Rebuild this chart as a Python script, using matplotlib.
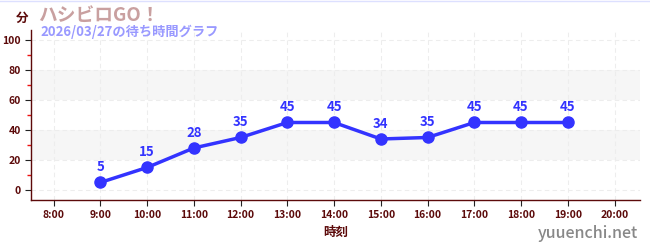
import matplotlib.pyplot as plt
from matplotlib.ticker import MultipleLocator

plt.rcParams['font.family'] = ['Noto Sans CJK JP', 'DejaVu Sans']

hours = [9, 10, 11, 12, 13, 14, 15, 16, 17, 18, 19]
wait = [5, 15, 28, 35, 45, 45, 34, 35, 45, 45, 45]
tick_hours = list(range(8, 21))
tick_labels = [f'{h}:00' for h in tick_hours]

dark = '#5c0a0a'
blue = '#3333ff'

fig = plt.figure(figsize=(6.5, 2.5), dpi=100, facecolor='white')
ax = fig.add_axes([0.048, 0.2, 0.937, 0.68])

ax.set_xlim(7.52, 20.55)
ax.set_ylim(-6.7, 106.7)

for lo, hi in [(20, 40), (60, 80)]:
    ax.axhspan(lo, hi, color='#f6f6f6', zorder=0, lw=0)

ax.set_xticks(tick_hours)
ax.set_xticklabels(tick_labels)
ax.yaxis.set_major_locator(MultipleLocator(20))
ax.yaxis.set_minor_locator(MultipleLocator(10))
ax.grid(True, which='major', color='#ededed', linestyle=(0, (4, 3)), lw=0.8, zorder=0)

for s in ['top', 'right']:
    ax.spines[s].set_visible(False)
for s in ['left', 'bottom']:
    ax.spines[s].set_color(dark)
    ax.spines[s].set_linewidth(1)

ax.tick_params(axis='both', which='major', colors='#222222', labelcolor=dark,
               labelsize=7.5, length=4, width=0.8)
ax.tick_params(axis='y', which='minor', colors='#ee1111', length=3, width=1)
for lab in ax.get_xticklabels() + ax.get_yticklabels():
    lab.set_fontweight('bold')

ax.plot(hours, wait, color=blue, lw=2.5, marker='o', ms=8, zorder=3)
for h, v in zip(hours, wait):
    ax.annotate(str(v), (h, v), xytext=(0, 6), textcoords='offset points',
                ha='center', va='bottom', color=blue, fontsize=9.5, fontweight='bold')

ax.set_xlabel('時刻', color=dark, fontsize=9, fontweight='bold', labelpad=4)

fig.text(0.024, 0.928, '分', color=dark, fontsize=9, fontweight='bold', ha='left', va='center')
fig.text(0.058, 0.94, 'ハシビロGO！', color='#c9a0a0', fontsize=13.5, fontweight='bold',
         ha='left', va='center')
fig.text(0.062, 0.872, '2026/03/27の待ち時間グラフ', color='#9999ff', fontsize=9.5,
         fontweight='bold', ha='left', va='center')
fig.text(0.982, 0.068, 'yuuenchi.net', color='#888888', fontsize=11.5, fontweight='medium',
         ha='right', va='center')
fig.add_artist(plt.Line2D([0, 1], [0.998, 0.998], transform=fig.transFigure,
                          color='#dde0ff', lw=1))

fig.savefig('out.png', dpi=100)
